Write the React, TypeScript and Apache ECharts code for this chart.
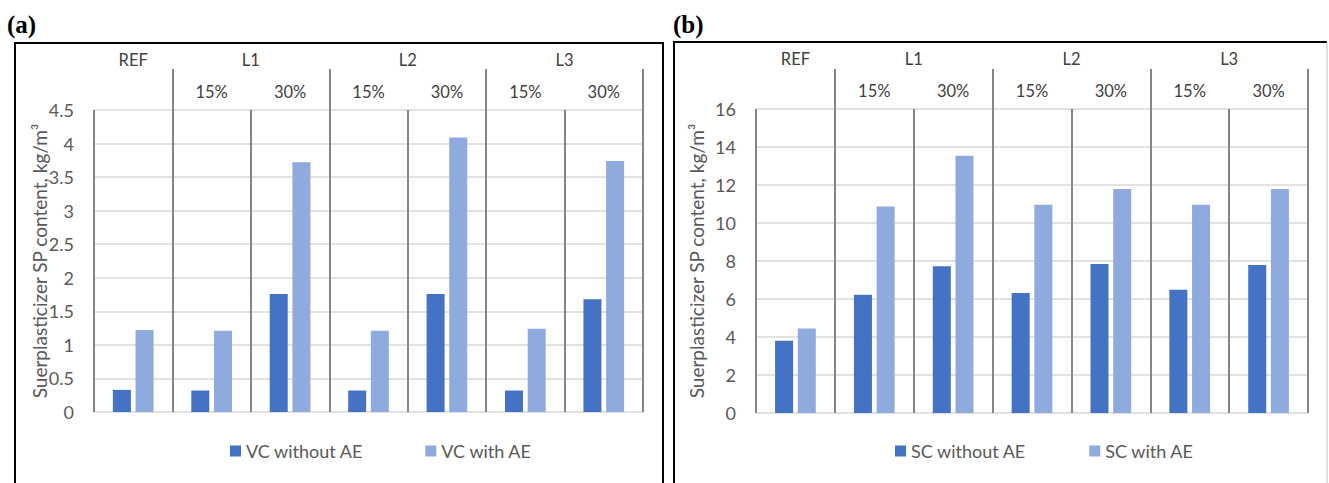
import React, { useEffect, useRef } from "react";
import * as echarts from "echarts";

// ---- data ----
const categories = ["REF", "L1 15%", "L1 30%", "L2 15%", "L2 30%", "L3 15%", "L3 30%"];
const groupLabels = ["REF", "L1", "L2", "L3"];
const groupSpans = [1, 2, 2, 2];

const vcWithoutAE = [0.33, 0.32, 1.76, 0.32, 1.76, 0.32, 1.68];
const vcWithAE = [1.22, 1.21, 3.72, 1.21, 4.09, 1.24, 3.74];
const scWithoutAE = [3.8, 6.23, 7.72, 6.32, 7.84, 6.49, 7.79];
const scWithAE = [4.45, 10.87, 13.54, 10.96, 11.79, 10.96, 11.79];

const yMaxA = 4.5;
const yIntervalA = 0.5;
const yMaxB = 16;
const yIntervalB = 2;

const seriesNamesA = ["VC without AE", "VC with AE"];
const seriesNamesB = ["SC without AE", "SC with AE"];
const yTitle = "Suerplasticizer SP content, kg/m\u00B3";
const panelLabels = ["(a)", "(b)"];

// ---- derived group positions ----
const groupStarts: number[] = [];
groupSpans.reduce((acc, s) => {
  groupStarts.push(acc);
  return acc + s;
}, 0);
const groupCenters = groupStarts.map((s, i) => s + groupSpans[i] / 2);
const groupEnds = groupStarts.map((s, i) => s + groupSpans[i]);

const DARK = "#4472C4";
const LIGHT = "#8FAADC";
const FONT = "Lato, 'Noto Sans', sans-serif";
const TICK_COLOR = "#595959";
const HEAD_COLOR = "#404040";
const DIV_COLOR = "#858585";
const GRID_COLOR = "#d9d9d9";

function subLabel(v: string) {
  const parts = v.split(" ");
  return parts.length > 1 ? parts[1] : "";
}

function catAxis(gridIndex: number) {
  return {
    type: "category",
    gridIndex,
    position: "top",
    data: categories,
    axisLine: { show: false },
    axisTick: { show: false },
    axisLabel: {
      formatter: subLabel,
      margin: 10,
      fontFamily: FONT,
      fontSize: 16.5,
      color: HEAD_COLOR,
      interval: 0,
    },
    splitLine: { show: true, lineStyle: { color: DIV_COLOR, width: 2 } },
  };
}

function groupAxis(gridIndex: number, tickLen: number) {
  return {
    type: "value",
    gridIndex,
    position: "top",
    min: 0,
    max: categories.length,
    axisLine: { show: false },
    splitLine: { show: false },
    axisTick: {
      show: true,
      customValues: groupEnds,
      length: tickLen,
      lineStyle: { color: DIV_COLOR, width: 2 },
    },
    axisLabel: {
      customValues: groupCenters,
      formatter: (v: number) => {
        const i = groupCenters.findIndex((c) => Math.abs(c - v) < 1e-6);
        return i >= 0 ? groupLabels[i] : "";
      },
      margin: 42,
      fontFamily: FONT,
      fontSize: 16.5,
      color: HEAD_COLOR,
    },
  };
}

function valAxis(gridIndex: number, max: number, interval: number, nameGap: number) {
  return {
    type: "value",
    gridIndex,
    min: 0,
    max,
    interval,
    name: yTitle,
    nameLocation: "middle",
    nameRotate: 90,
    nameGap,
    nameMoveOverlap: false,
    nameTextStyle: { fontFamily: FONT, fontSize: 19, color: TICK_COLOR },
    axisLine: { show: false },
    axisTick: { show: false },
    axisLabel: { margin: 20, fontFamily: FONT, fontSize: 18, color: TICK_COLOR },
    splitLine: { show: true, lineStyle: { color: GRID_COLOR, width: 1.5 } },
  };
}

function bar(name: string, data: number[], color: string, xAxisIndex: number, yAxisIndex: number) {
  return {
    type: "bar",
    name,
    data,
    xAxisIndex,
    yAxisIndex,
    barWidth: 18,
    barGap: "26%",
    itemStyle: { color },
  };
}

function legend(names: string[], left: number, gap: number) {
  return {
    data: names,
    left,
    top: 437,
    icon: "rect",
    itemWidth: 11,
    itemHeight: 11,
    itemGap: gap,
    textStyle: { fontFamily: FONT, fontSize: 18, color: TICK_COLOR },
  };
}

export default function App() {
  const ref = useRef<HTMLDivElement>(null);
  useEffect(() => {
    if (!ref.current) return;
    const chart = echarts.init(ref.current, undefined, { renderer: "svg" });
    chart.setOption({
      animation: false,
      backgroundColor: "#ffffff",
      grid: [
        { left: 94, top: 110, width: 549, height: 302 },
        { left: 756, top: 109, width: 552, height: 304 },
      ],
      xAxis: [catAxis(0), groupAxis(0, 41), catAxis(1), groupAxis(1, 40)],
      yAxis: [valAxis(0, yMaxA, yIntervalA, 45), valAxis(1, yMaxB, yIntervalB, 50)],
      legend: [legend(seriesNamesA, 225, 62), legend(seriesNamesB, 890, 63)],
      series: [
        bar(seriesNamesA[0], vcWithoutAE, DARK, 0, 0),
        bar(seriesNamesA[1], vcWithAE, LIGHT, 0, 0),
        bar(seriesNamesB[0], scWithoutAE, DARK, 2, 1),
        bar(seriesNamesB[1], scWithAE, LIGHT, 2, 1),
      ],
      graphic: [
        {
          type: "rect",
          shape: { x: 15, y: 43, width: 648, height: 470 },
          style: { fill: "none", stroke: "#000", lineWidth: 2 },
        },
        {
          type: "polyline",
          shape: { points: [[674, 500], [674, 42], [1327, 42]] },
          style: { fill: "none", stroke: "#000", lineWidth: 2 },
        },
        {
          type: "line",
          shape: { x1: 1327, y1: 42, x2: 1327, y2: 500 },
          style: { stroke: "#bfbfbf", lineWidth: 1 },
        },
        {
          type: "text",
          x: 7,
          y: 12,
          style: {
            text: panelLabels[0],
            font: "bold 25px 'Liberation Serif', serif",
            fill: "#000",
          },
        },
        {
          type: "text",
          x: 673,
          y: 12,
          style: {
            text: panelLabels[1],
            font: "bold 25px 'Liberation Serif', serif",
            fill: "#000",
          },
        },
      ],
    });
    return () => chart.dispose();
  }, []);
  return (
    <div
      ref={ref}
      style={{ position: "absolute", left: 0, top: 0, width: 1329, height: 483 }}
    />
  );
}
